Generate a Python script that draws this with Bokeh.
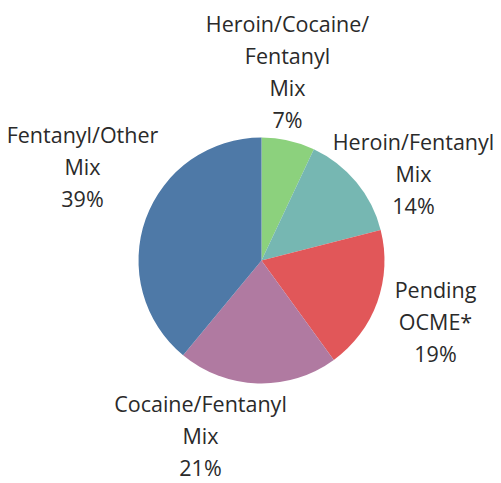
import math
from bokeh.plotting import figure
from bokeh.models import Range1d, ColumnDataSource
from bokeh.core.properties import value
from bokeh.embed import file_html
from bokeh.resources import INLINE

# ---- data ----
categories = ["Heroin/Cocaine/\nFentanyl\nMix", "Heroin/Fentanyl\nMix", "Pending\nOCME*",
              "Cocaine/Fentanyl\nMix", "Fentanyl/Other\nMix"]
shares = [7, 14, 19, 21, 39]
colors = ["#8CD17D", "#76B7B2", "#E15759", "#B07AA1", "#4E79A7"]

# ---- layout ----
W, H = 501, 483
CX, CY, R = 261, 223, 123
label_xy = [(287, 412), (413, 310), (435, 162), (200, 48), (82, 317)]

total = sum(shares)
starts, ends, cum = [], [], 0.0
for s in shares:
    a0 = math.pi / 2 - 2 * math.pi * cum / total
    cum += s
    a1 = math.pi / 2 - 2 * math.pi * cum / total
    starts.append(a1)
    ends.append(a0)

src = ColumnDataSource(dict(start=starts, end=ends, color=colors))

p = figure(width=W, height=H, x_range=Range1d(0, W), y_range=Range1d(0, H),
           output_backend="svg", toolbar_location=None, min_border=0,
           min_border_left=0, min_border_right=0, min_border_top=0, min_border_bottom=0)
p.axis.visible = False
p.grid.visible = False
p.outline_line_color = None
p.background_fill_color = "white"

p.wedge(x=CX, y=CY, radius=R, start_angle="start", end_angle="end",
        fill_color="color", line_color=None, source=src)

texts = [f"{c}\n{s}%" for c, s in zip(categories, shares)]
lsrc = ColumnDataSource(dict(x=[a for a, b in label_xy], y=[b for a, b in label_xy], t=texts))
p.text(x="x", y="y", text="t", source=lsrc, text_align="center", text_baseline="middle",
       text_font=value("Open Sans"), text_font_size="21.5px", text_color="#2a2a2a",
       text_line_height=1.1)

open("out.html", "w").write(file_html(p, INLINE))
